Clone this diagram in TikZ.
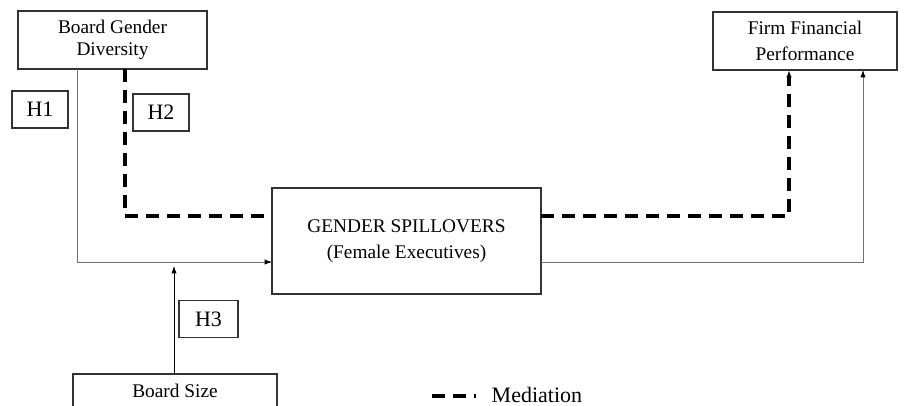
\documentclass[tikz,border=0pt]{standalone}
\usepackage{fontspec}
\setmainfont{Liberation Serif}
\usetikzlibrary{arrows.meta}

\begin{document}
\begin{tikzpicture}[x=0.75pt,y=-0.75pt]
	\tikzstyle{box}=[draw=black!80,line width=0.8pt,inner sep=0pt,outer sep=0pt,align=center,font=\fontsize{14.5}{16.5}\selectfont]
	\tikzstyle{hyp}=[box,font=\fontsize{16.5}{19}\selectfont,minimum height=27.75pt]
	\tikzstyle{link}=[draw=black!55,line width=0.6pt]
	\tikzstyle{mediation}=[line width=2.6pt,dash pattern=on 9.75pt off 6pt]
	\tikzstyle{tip}=[-{Latex[length=5.5pt,width=4pt,color=black]}]

	\useasboundingbox (0,0) rectangle (908,406);
	\clip (0,0) rectangle (908,406);

	\node[box,minimum width=141.75pt,minimum height=43.5pt](bgd) at (112.5,40){Board Gender\\Diversity};
	\node[box,minimum width=138pt,minimum height=43.5pt,font=\fontsize{14.5}{19}\selectfont](ffp) at (805,41){Firm Financial\\Performance};
	\node[box,minimum width=201.75pt,minimum height=79.5pt,font=\fontsize{14.5}{19}\selectfont](gs) at (406.5,241){GENDER SPILLOVERS\\(Female Executives)};
	\node[box,minimum width=153pt,minimum height=25.5pt](bs) at (175,391){Board Size};

	\node[hyp,minimum width=42pt](h1) at (40,109.5){H1};
	\node[hyp,minimum width=42pt](h2) at (161,112.5){H2};
	\node[hyp,minimum width=44.25pt](h3) at (208.5,319){H3};

	\coordinate (lane1) at (77,262);
	\coordinate (lane2) at (125,216);
	\coordinate (lane3) at (789,216);
	\coordinate (lane4) at (863,262);
	\coordinate (mod) at (174,266);

	\draw[link,tip] (bgd.south -| lane1) |- (gs.west |- lane1);
	\draw[mediation] (bgd.south -| lane2) |- (gs.west |- lane2);
	\draw[mediation,tip] (gs.east |- lane3) -| (ffp.south -| lane3);
	\draw[link,tip] (gs.east |- lane4) -| (ffp.south -| lane4);
	\draw[link,draw=black,tip] (bs.north -| mod) -- (mod);

	% legend
	\coordinate (lg) at (432,396);
	\draw[mediation] (lg) -- ++(44,0);
	\node[anchor=west,font=\fontsize{16.5}{19}\selectfont](legend) at (487,394.5){Mediation};
\end{tikzpicture}
\end{document}
